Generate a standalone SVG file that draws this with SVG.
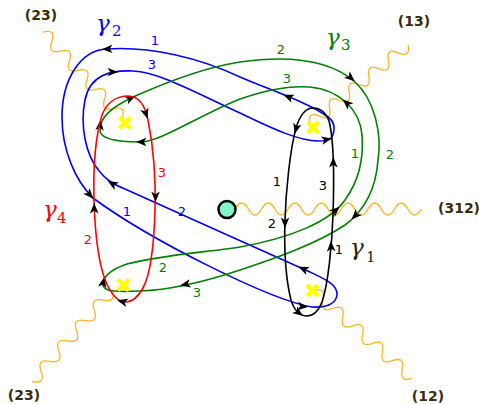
<svg xmlns="http://www.w3.org/2000/svg" xmlns:xlink="http://www.w3.org/1999/xlink" width="479" height="404" viewBox="0 0 479 404">
<style>
.cut{fill:none;stroke:#fbb520;stroke-width:1.3}
.crv{fill:none;stroke-width:1.6}
.b{stroke:#0000ff}.g{stroke:#008000}.r{stroke:#ff0000}.k{stroke:#000000}
.num{font-family:"DejaVu Sans",sans-serif;font-size:13px;text-anchor:middle}
.br{font-family:"DejaVu Sans",sans-serif;font-weight:bold;font-size:14px;fill:#3a2c08;text-anchor:middle}
.gam{font-family:"DejaVu Serif",serif;font-style:italic;font-size:23px}
.sub{font-family:"DejaVu Serif",serif;font-size:15px}
.x{stroke:#ffff00;stroke-width:4.5;stroke-linecap:butt}
</style>
<defs>
<path id="a" d="M5,0 L-5.5,-4.3 L-2.8,0 L-5.5,4.3 Z" fill="#000"/>
</defs>
<rect width="479" height="404" fill="#fff"/>
<g id="branch-cuts">
<path class="cut" transform="translate(43,32) rotate(47.4)" d="M0,0 q6.5,-12 13,0 t13,0 t13,0 t13,0 t13,0 t13,0 t13,0 t13,0 t13,0"/>
<path class="cut" transform="translate(310,124) rotate(-38.9)" d="M0,0 q6.3,-12 12.6,0 t12.6,0 t12.6,0 t12.6,0 t12.6,0 t12.6,0 t12.6,0 t12.6,0 t12.6,0 t12.6,0"/>
<path class="cut" transform="translate(235,209)" d="M0,0 q6.65,-12 13.3,0 t13.3,0 t13.3,0 t13.3,0 t13.3,0 t13.3,0 t13.3,0 t13.3,0 t13.3,0 t13.3,0 t13.3,0 t13.3,0 t13.3,0 t13.3,0"/>
<path class="cut" transform="translate(112,290) rotate(131)" d="M0,0 q6.75,-12 13.5,0 t13.5,0 t13.5,0 t13.5,0 t13.5,0 t13.5,0 t13.5,0 t13.5,0 t13.5,0"/>
<path class="cut" transform="translate(313,291) rotate(41.3)" d="M0,0 q6.6,-12 13.2,0 t13.2,0 t13.2,0 t13.2,0 t13.2,0 t13.2,0 t13.2,0 t13.2,0 t13.2,0 t13.2,0"/>
<text class="br" x="41" y="19.5">(23)</text>
<text class="br" x="414" y="25.5">(13)</text>
<text class="br" x="438" y="212.5" style="text-anchor:start">(312)</text>
<text class="br" x="24" y="399.5">(23)</text>
<text class="br" x="428" y="400.5">(12)</text>
</g>
<g id="connectors">
<g id="gamma2">
<path class="crv b" d="M334,128 C334,138 330,141 318,141 C300,141 275,130 240,113 C200,95 160,72 133,71 C110,70 90,75 85,100 C80,125 85,155 100,172 C105,178 110,183 125,189 C160,205 250,245 310,272 C325,279 338,285 337,295 C336,304 326,308 312,307 C270,300 150,240 93,198 C75,180 62,150 62,117 C62,80 80,50 107,49 C150,46 200,58 240,77 C270,90 310,103 328,117 C332,120 334,124 334,128 Z"/>
<use xlink:href="#a" transform="translate(107,49) rotate(178)"/>
<use xlink:href="#a" transform="translate(288,96.6) rotate(203)"/>
<use xlink:href="#a" transform="translate(113,72) rotate(0)"/>
<use xlink:href="#a" transform="translate(327,139.5) rotate(-12)"/>
<use xlink:href="#a" transform="translate(90,195) rotate(48)"/>
<use xlink:href="#a" transform="translate(112,183.5) rotate(-150)"/>
<use xlink:href="#a" transform="translate(303,268.8) rotate(204)"/>
<use xlink:href="#a" transform="translate(303,306.5) rotate(5)"/>
<text class="num" x="155" y="45" fill="#0000ff">1</text>
<text class="num" x="152" y="69" fill="#0000ff">3</text>
<text class="num" x="127" y="216" fill="#0000ff">1</text>
<text class="num" x="182" y="216" fill="#0000ff">2</text>
<text class="gam" x="96" y="31" fill="#0000ff">γ</text>
<text class="sub" x="112" y="36" fill="#0000ff">2</text>
</g>
<g id="gamma3">
<path class="crv g" d="M100,130 C100,118 110,108 133,97 C160,85 200,68 240,62 C290,55 330,60 355,82 C375,100 382,135 378,160 C376,190 365,210 345,225 C315,245 270,260 240,270 C210,280 170,290 140,291 C120,292 103,292 103,285 C103,275 115,268 127,264 C160,255 210,252 240,247 C290,238 330,222 345,200 C358,182 364,160 362,135 C360,110 340,90 310,87 C285,85 260,92 240,99 C200,115 160,142 140,142 C120,142 100,140 100,130 Z"/>
<use xlink:href="#a" transform="translate(131,98) rotate(-25)"/>
<use xlink:href="#a" transform="translate(100,125) rotate(-85)"/>
<use xlink:href="#a" transform="translate(141,142) rotate(180)"/>
<use xlink:href="#a" transform="translate(351,78) rotate(41)"/>
<use xlink:href="#a" transform="translate(346.5,102.8) rotate(222)"/>
<use xlink:href="#a" transform="translate(355,216) rotate(134)"/>
<use xlink:href="#a" transform="translate(336,210) rotate(-42)"/>
<use xlink:href="#a" transform="translate(185,284.5) rotate(168)"/>
<use xlink:href="#a" transform="translate(103.3,282) rotate(-78)"/>
<text class="num" x="281" y="54" fill="#008000">2</text>
<text class="num" x="287" y="83" fill="#008000">3</text>
<text class="num" x="355" y="158" fill="#008000">1</text>
<text class="num" x="390" y="159" fill="#008000">2</text>
<text class="num" x="163" y="272" fill="#008000">2</text>
<text class="num" x="197" y="297" fill="#008000">3</text>
<text class="gam" x="326" y="45" fill="#008000">γ</text>
<text class="sub" x="341" y="50" fill="#008000">3</text>
</g>
<g id="gamma4">
<path class="crv r" d="M128,96 C138,96 145,105 148,120 C153,145 156,175 155,210 C154,245 150,275 143,288 C138,297 132,302 126,302 C118,302 111,294 106,282 C99,265 95,235 94,200 C93,165 96,135 102,115 C107,102 117,96 128,96 Z"/>
<use xlink:href="#a" transform="translate(146,114) rotate(72)"/>
<use xlink:href="#a" transform="translate(155.5,197) rotate(90)"/>
<use xlink:href="#a" transform="translate(122,301.5) rotate(195)"/>
<use xlink:href="#a" transform="translate(94.2,208) rotate(-90)"/>
<text class="num" x="162" y="177" fill="#ff0000">3</text>
<text class="num" x="88" y="244" fill="#ff0000">2</text>
<text class="gam" x="43" y="217" fill="#ff0000">γ</text>
<text class="sub" x="57" y="223" fill="#ff0000">4</text>
</g>
<g id="gamma1">
<path class="crv k" d="M313,108 C322,108 328,115 330,125 C334,145 334,185 333,215 C332,245 328,285 322,302 C318,312 313,316 307,316 C300,316 294,310 291,300 C286,280 284,250 285,220 C286,190 290,150 296,128 C300,115 305,108 313,108 Z"/>
<use xlink:href="#a" transform="translate(296,129) rotate(105)"/>
<use xlink:href="#a" transform="translate(285,223) rotate(90)"/>
<use xlink:href="#a" transform="translate(299,313) rotate(37)"/>
<use xlink:href="#a" transform="translate(331,246) rotate(-92)"/>
<use xlink:href="#a" transform="translate(333.3,162) rotate(-90)"/>
<text class="num" x="277" y="186" fill="#000">1</text>
<text class="num" x="323" y="190" fill="#000">3</text>
<text class="num" x="272" y="228" fill="#000">2</text>
<text class="num" x="339" y="254" fill="#000">1</text>
<text class="gam" x="350" y="255" fill="#222">γ</text>
<text class="sub" x="366" y="262" fill="#222">1</text>
</g>
</g>
<g id="branch-points">
<g id="bp-ul"><path class="x" d="M119.5,117.5 L130.5,128.5 M130.5,117.5 L119.5,128.5"/></g>
<g id="bp-ur"><path class="x" d="M307.5,122 L318.5,133 M318.5,122 L307.5,133"/></g>
<g id="bp-ll"><path class="x" d="M118,279.5 L129,290.5 M129,279.5 L118,290.5"/></g>
<g id="bp-lr"><path class="x" d="M307,285 L318,296 M318,285 L307,296"/></g>
<g id="center"><circle cx="227" cy="209.5" r="8.5" fill="#80f5cc" stroke="#000" stroke-width="2.5"/></g>
</g>
</svg>
